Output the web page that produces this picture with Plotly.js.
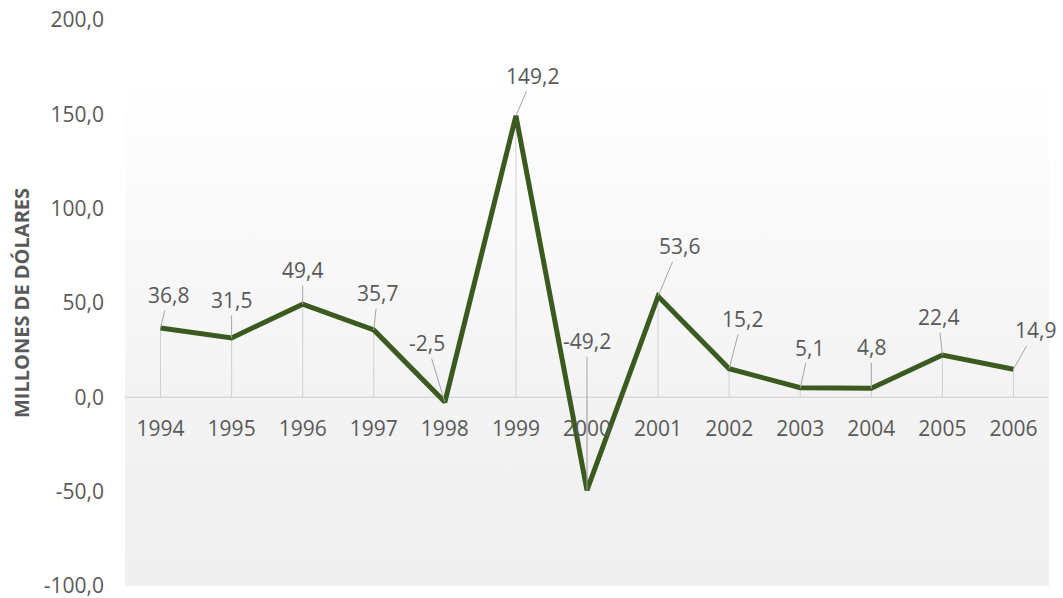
<!DOCTYPE html>
<html>
<head>
<meta charset="utf-8">
<script src="https://cdn.plot.ly/plotly-3.0.1.min.js"></script>
<style>
html,body{margin:0;padding:0;background:#fff;}
#chart{width:1063px;height:598px;}
</style>
</head>
<body>
<div id="chart"></div>
<script>
// Data
const years = ['1994','1995','1996','1997','1998','1999','2000','2001','2002','2003','2004','2005','2006'];
const values = [36.8, 31.5, 49.4, 35.7, -2.5, 149.2, -49.2, 53.6, 15.2, 5.1, 4.8, 22.4, 14.9];
const yTicks = [-100, -50, 0, 50, 100, 150, 200];
const yTickText = ['-100,0', '-50,0', '0,0', '50,0', '100,0', '150,0', '200,0'];
const yTitle = 'MILLONES DE DÓLARES';
// label offsets (px) of each data label relative to its point
const labelDx = [8, 0, 0, 4, -18, 17, 0, 21, 13, 9, 0, -4, 22];
const labelDy = [-33, -38, -34, -37, -59, -40, -149, -50, -50, -40, -41, -38, -39];

const txtColor = '#595959';
const fontFam = '"Open Sans", "Noto Sans", sans-serif';

const fmt = v => v.toFixed(1).replace('.', ',');
const idx = years.map((_, i) => i);

// gradient background image
const svg = '<svg xmlns="http://www.w3.org/2000/svg" width="100" height="100" preserveAspectRatio="none">' +
  '<defs><linearGradient id="g" x1="0" y1="0" x2="0" y2="1">' +
  '<stop offset="0" stop-color="#ffffff"/>' +
  '<stop offset="0.62" stop-color="#f3f3f3"/>' +
  '<stop offset="1" stop-color="#efefef"/>' +
  '</linearGradient></defs><rect width="100" height="100" fill="url(#g)"/></svg>';
const bgUri = 'data:image/svg+xml;base64,' + btoa(svg);

const trace = {
  x: idx,
  y: values,
  type: 'scatter',
  mode: 'lines',
  line: {color: '#3a5a1f', width: 5},
  hoverinfo: 'skip',
  cliponaxis: false
};

// drop lines from each point to zero
const shapes = idx.map(i => ({
  type: 'line', xref: 'x', yref: 'y',
  x0: i, x1: i, y0: 0, y1: values[i],
  line: {color: '#d0d0d0', width: 1},
  layer: 'below'
}));
// zero line across the plot
shapes.push({
  type: 'line', xref: 'paper', yref: 'y', x0: 0, x1: 1, y0: 0, y1: 0,
  line: {color: '#d9d9d9', width: 1.5}, layer: 'below'
});

const annotations = idx.map(i => ({
  x: i, y: values[i], xref: 'x', yref: 'y',
  text: fmt(values[i]),
  showarrow: true, arrowhead: 0, arrowwidth: 1, arrowcolor: '#a6a6a6',
  ax: labelDx[i], ay: labelDy[i], axref: 'pixel', ayref: 'pixel', standoff: 0,
  font: {family: fontFam, size: 21, color: txtColor}
}));

const layout = {
  width: 1063, height: 598,
  margin: {l: 125, r: 14, t: 20, b: 12},
  paper_bgcolor: '#ffffff',
  plot_bgcolor: 'rgba(0,0,0,0)',
  showlegend: false,
  font: {family: fontFam, color: txtColor},
  xaxis: {
    range: [-0.5, years.length - 0.5],
    tickvals: idx, ticktext: years,
    anchor: 'free', position: 1/3,
    showgrid: false, zeroline: false, showline: false,
    ticks: '', ticklabelstandoff: 17,
    tickfont: {family: fontFam, size: 21, color: txtColor},
    fixedrange: true
  },
  yaxis: {
    range: [-100, 200],
    tickvals: yTicks, ticktext: yTickText,
    ticklabeloverflow: 'allow',
    showgrid: false, zeroline: false, showline: false,
    ticks: '', ticklabelstandoff: 20,
    tickfont: {family: fontFam, size: 21, color: txtColor},
    title: {text: yTitle, font: {family: fontFam, size: 20, color: txtColor, weight: 'bold'}, standoff: 8},
    fixedrange: true
  },
  images: [{
    source: bgUri, xref: 'paper', yref: 'y',
    x: 0, y: 170, sizex: 1, sizey: 270,
    sizing: 'stretch', xanchor: 'left', yanchor: 'top', layer: 'below'
  }],
  shapes: shapes,
  annotations: annotations
};

Plotly.newPlot('chart', [trace], layout, {displayModeBar: false});
</script>
</body>
</html>
